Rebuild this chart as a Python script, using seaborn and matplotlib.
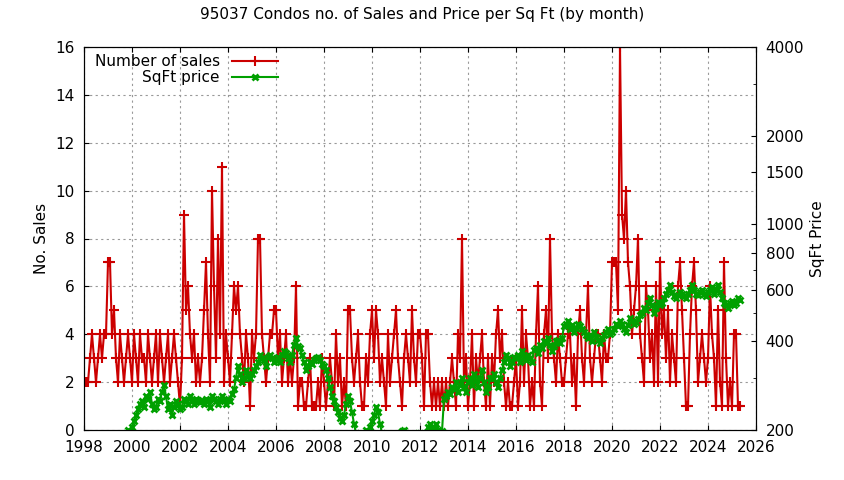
import numpy as np
import pandas as pd
import matplotlib
matplotlib.use("Agg")
import matplotlib.pyplot as plt
import seaborn as sns
from matplotlib.ticker import FixedLocator, FixedFormatter, NullFormatter

sales = [
2,2,2,3,4,3,2,3,4,3,4,4,
7,7,4,5,3,2,4,3,2,3,4,3,
2,4,3,2,4,3,3,2,4,3,2,3,
4,2,4,3,2,3,4,2,3,4,3,2,
1,3,9,5,6,4,3,4,2,3,2,3,
5,7,4,2,10,6,3,8,4,11,2,4,
3,2,4,6,5,6,4,3,2,4,3,1,
4,3,4,8,8,4,3,2,3,4,4,5,
5,3,4,2,3,4,2,3,2,3,6,1,
2,2,1,1,2,3,1,1,1,2,1,3,
2,1,2,3,2,1,4,2,3,1,2,1,
5,5,3,2,3,4,2,1,1,3,2,4,
5,3,5,4,2,3,2,1,4,2,3,4,
5,3,2,1,3,4,3,2,5,3,2,4,
4,3,1,4,4,2,1,2,1,2,1,2,
1,2,1,2,3,2,1,4,3,8,2,3,
1,2,4,1,3,2,3,4,2,1,3,1,
3,2,4,5,3,4,2,1,2,1,1,2,
3,1,2,5,2,4,3,1,2,1,4,6,
2,1,4,5,3,8,4,3,2,4,3,2,
2,3,4,4,2,3,1,4,5,3,2,4,
6,3,2,3,4,4,3,2,4,3,3,4,
7,7,7,5,16,9,8,10,7,6,4,5,
6,8,4,3,2,6,5,3,4,2,6,2,
7,4,5,3,5,2,4,3,2,6,7,5,
3,1,1,4,6,7,5,2,3,4,3,2,
3,6,4,3,1,5,2,1,7,3,1,2,
1,4,4,1,1]

N = np.nan
price = [
N,N,N,N,N,N,N,N,N,N,N,N,
N,N,N,N,N,N,N,190,185,195,200,190,
205,215,225,235,245,250,240,260,255,270,245,235,
240,255,250,270,285,260,235,245,225,240,250,245,
235,240,255,250,245,260,250,245,255,250,248,252,
245,255,250,240,260,255,250,245,255,260,250,245,
255,250,265,275,300,330,310,290,300,320,305,300,
310,320,330,340,360,350,345,330,355,360,350,340,
345,355,340,360,370,365,350,340,360,390,410,385,
380,360,340,320,330,340,335,345,350,355,345,335,
330,320,300,280,260,250,240,230,220,215,225,245,
260,250,230,210,195,190,185,180,190,200,195,205,
215,225,240,230,210,195,185,180,185,190,190,185,
185,190,195,198,200,195,190,185,180,185,190,195,
195,190,185,195,205,210,200,205,210,200,195,198,
255,260,270,265,280,275,290,270,285,300,280,270,
290,300,285,310,295,280,300,320,290,270,280,300,
300,310,290,280,300,320,340,360,350,330,340,355,
350,360,340,370,355,345,360,350,340,375,380,365,
390,380,400,395,410,390,370,385,400,405,395,410,
450,460,470,440,455,430,445,460,450,440,430,420,
410,420,400,430,415,405,395,410,420,430,440,425,
430,440,460,450,470,460,440,430,455,480,470,460,
465,475,490,500,520,510,540,560,530,500,520,545,
530,540,560,580,600,620,590,570,560,575,590,580,
570,560,580,600,620,600,580,575,590,600,580,570,
590,600,610,580,600,620,590,560,540,530,520,540,
550,530,540,560,555]

start_year = 1998
t = start_year + np.arange(len(sales)) / 12.0
df = pd.DataFrame({"t": t, "sales": sales, "price": price})

red = "#cc0000"
green = "#00a000"

fig = plt.figure(figsize=(8.44, 4.8), dpi=100)
ax = fig.add_axes([84/844, 50/480, 672/844, 383/480])
ax2 = ax.twinx()

sns.lineplot(data=df, x="t", y="sales", ax=ax, color=red, lw=1.5,
             marker="+", markersize=7, mew=1.5, mec=red, label="Number of sales", legend=False)
sns.lineplot(data=df, x="t", y="price", ax=ax2, color=green, lw=1.5,
             marker="x", markersize=5, mew=2, mec=green, label="SqFt price", legend=False)

ax.set_xlim(1998, 2026)
ax.set_ylim(0, 16)
ax.set_xticks(range(1998, 2027, 2))
ax.set_yticks(range(0, 17, 2))
ax.set_xlabel("")
ax.set_ylabel("No. Sales", fontsize=11)
ax.grid(True, color="#999999", linestyle=(0, (2, 3)), lw=0.8)
ax.tick_params(direction="in", labelsize=11, top=True)
ax.tick_params(axis="x", pad=7)
ax.tick_params(axis="y", pad=7)

ax2.set_yscale("log")
ax2.set_ylim(200, 4000)
rt = [200, 400, 600, 800, 1000, 1500, 2000, 4000]
ax2.yaxis.set_major_locator(FixedLocator(rt))
ax2.yaxis.set_major_formatter(FixedFormatter([str(v) for v in rt]))
ax2.yaxis.set_minor_formatter(NullFormatter())
ax2.set_ylabel("SqFt Price", fontsize=11)
ax2.tick_params(direction="in", labelsize=11, which="both", pad=7)

h1, l1 = ax.get_legend_handles_labels()
h2, l2 = ax2.get_legend_handles_labels()
ax2.legend(h1 + h2, l1 + l2, loc="upper left", bbox_to_anchor=(0.0, 1.01), frameon=False,
           markerfirst=False, fontsize=11, handlelength=3, borderaxespad=0.3, labelspacing=0.1)

fig.suptitle("95037 Condos no. of Sales and Price per Sq Ft (by month)", y=0.985, fontsize=11)
fig.savefig("out.png", dpi=100)
